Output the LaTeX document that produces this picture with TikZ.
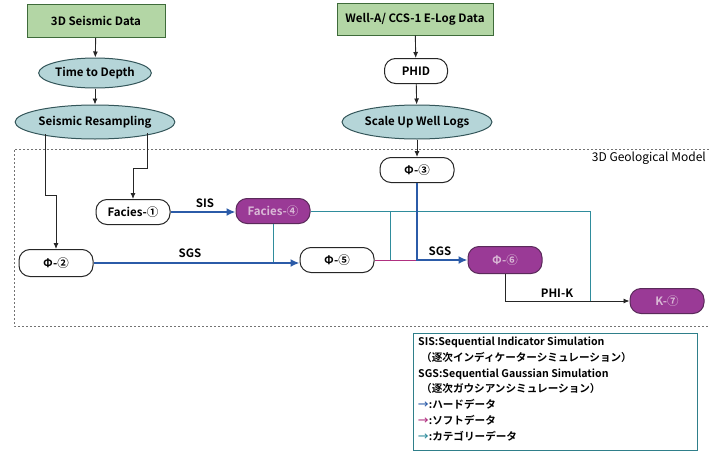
\documentclass[tikz,border=0pt]{standalone}
\usepackage{fontspec}
\setmainfont{Noto Sans CJK JP}[BoldFont={Noto Sans CJK JP Bold}]
\usetikzlibrary{shapes.geometric,arrows.meta}
\definecolor{gfill}{HTML}{B3D6A5}
\definecolor{gdraw}{HTML}{3E6B3A}
\definecolor{efill}{HTML}{B5D5D8}
\definecolor{edraw}{HTML}{34565A}
\definecolor{pfill}{HTML}{9A3A96}
\definecolor{pdraw}{HTML}{5A2A5A}
\definecolor{ptext}{HTML}{D9B8D6}
\definecolor{hardc}{HTML}{2B5BA8}
\definecolor{catc}{HTML}{2F8C9C}
\definecolor{softc}{HTML}{B03080}
\definecolor{legc}{HTML}{2F7F8A}
\begin{document}
\begin{tikzpicture}[x=1pt,y=-1pt,
  font=\bfseries\fontsize{11.5}{13}\selectfont,
  databox/.style={draw=gdraw, fill=gfill, line width=1pt, inner sep=0pt},
  proc/.style={ellipse, draw=edraw, fill=efill, line width=1pt, inner sep=0pt},
  rbox/.style={draw=black!85, fill=white, rounded corners=11pt, line width=1pt, minimum width=74, minimum height=25, inner sep=0pt},
  pbox/.style={draw=pdraw, fill=pfill, text=ptext, rounded corners=11pt, line width=1pt, minimum width=74, minimum height=25, inner sep=0pt},
  arr/.style={draw=black!85, line width=0.9pt, -{Latex[length=6pt,width=5pt]}},
  hard/.style={draw=hardc, line width=2.2pt, -{Latex[length=9pt,width=8pt]}},
  cat/.style={draw=catc, line width=0.9pt},
  soft/.style={draw=softc, line width=0.9pt},
  lbl/.style={font=\bfseries\fontsize{11.5}{13}\selectfont, inner sep=1.5pt},
  frame/.style={draw=black!55, line width=0.8pt, dash pattern=on 2pt off 2pt}
]
\useasboundingbox (0,0) rectangle (709,455);

% frame
\draw[frame] (709,149) -- (14,149) -- (14,326) -- (709,326);
\node[font=\mdseries\fontsize{12}{14}\selectfont, anchor=east, inner sep=0pt] (gm) at (706,158) {3D Geological Model};

% nodes
\node[databox, minimum width=138, minimum height=33] (sd) at (96,21) {3D Seismic Data};
\node[proc, minimum width=105, minimum height=30] (ttd) at (95,73) {Time to Depth};
\node[proc, minimum width=140, minimum height=34] (sr) at (95,122) {Seismic Resampling};
\node[databox, minimum width=156, minimum height=32] (well) at (415,19) {Well-A/ CCS-1 E-Log Data};
\node[rbox, minimum width=63] (phid) at (416,71) {PHID};
\node[proc, minimum width=150, minimum height=34] (sul) at (417,122) {Scale Up Well Logs};
\node[rbox] (p3) at (417,170) {Φ-③};
\node[rbox] (f1) at (133,212) {Facies-①};
\node[pbox] (f4) at (273,211) {Facies-④};
\node[rbox, minimum height=27] (p2) at (56,263) {Φ-②};
\node[rbox] (p5) at (337,260) {Φ-⑤};
\node[pbox, minimum height=27] (p6) at (505,260) {Φ-⑥};
\node[pbox] (k7) at (667,301) {K-⑦};

% connectors (black)
\coordinate (srl) at (45,134);
\coordinate (srr) at (147,133);
\draw[arr] (sd) -- (ttd);
\draw[arr] (ttd) -- (sr);
\draw[arr] (srl) -- (45,195) -| (p2.north);
\draw[arr] (srr) -- (147,168) -| (f1.north);
\draw[arr] (well) -- (phid);
\draw[arr] (phid) -- (sul);
\draw[arr] (sul) -- (p3);

% category lines
\draw[cat] (f4.east) -- (590,211) -- (590,301);
\draw[cat] (390,211) -- (390,260);
\draw[cat] (f4.south) -- (f4.south |- p2.east);

% soft
\draw[soft] (p5.east) -- (p3.south |- p5.east);

% hard
\draw[hard] (f1.east) -- (f1.east -| f4.west);
\draw[hard] (p2.east) -- (p2.east -| p5.west);
\draw[hard] (p3.south) |- (p6.west);

% PHI-K
\draw[arr] (p6.south) |- (k7.west);

% labels
\node[lbl] (lsis) at (205,203) {SIS};
\node[lbl] (lsgs1) at (190,253) {SGS};
\node[lbl] (lsgs2) at (440,251) {SGS};
\node[lbl] (lphik) at (557,293) {PHI-K};

% legend
\node[draw=legc, line width=1.2pt, anchor=north west, minimum width=284, minimum height=117, inner sep=0pt] (leg) at (413,333) {};
\node[anchor=north west, align=left, inner sep=0pt, font=\bfseries\fontsize{10.6}{15.7}\selectfont] (legt) at (418,337)
 {SIS:Sequential Indicator Simulation\\
  \hspace{3pt}（逐次インディケーターシミュレーション）\\
  SGS:Sequential Gaussian Simulation\\
  \hspace{3pt}（逐次ガウシアンシミュレーション）\\
  \textcolor{hardc}{→}:ハードデータ\\
  \textcolor{softc}{→}:ソフトデータ\\
  \textcolor{catc}{→}:カテゴリーデータ};
\end{tikzpicture}
\end{document}
